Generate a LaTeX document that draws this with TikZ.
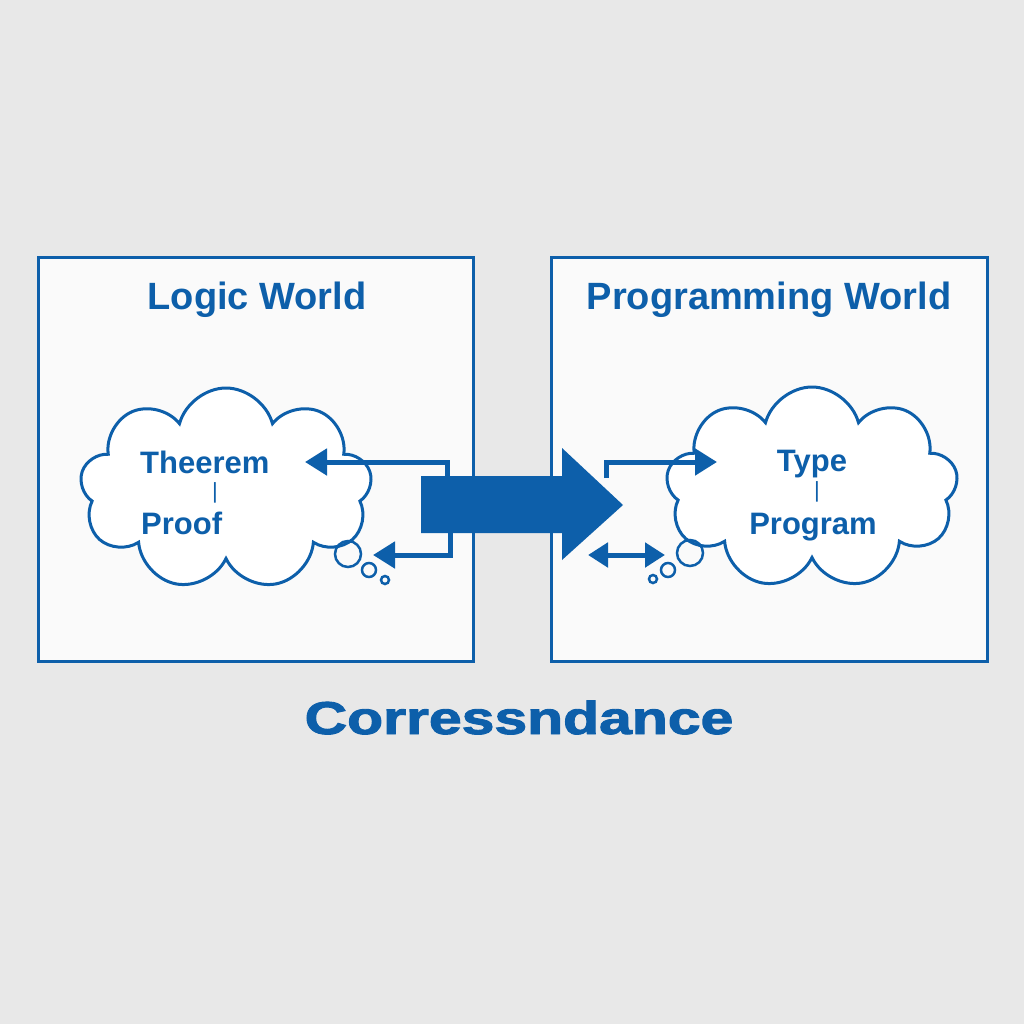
\documentclass[tikz,border=0pt]{standalone}
\usepackage{fontspec}
\usepackage{graphicx}
\setmainfont{Liberation Sans}
\usetikzlibrary{shapes.symbols,arrows.meta}
\definecolor{corrblue}{HTML}{0D5FAA}
\definecolor{bggray}{HTML}{E8E8E8}
\definecolor{boxfill}{HTML}{FAFAFA}
\tikzset{
	world/.style={draw=corrblue,fill=boxfill,line width=3pt},
	thought/.style={cloud,cloud puffs=9,aspect=1.45,draw=corrblue,fill=white,line width=3pt,minimum width=292pt,minimum height=202pt,inner sep=0pt},
	bubble/.style={draw=corrblue,line width=2.5pt},
	title/.style={text=corrblue,font=\fontsize{38}{44}\selectfont\bfseries,inner sep=0pt,anchor=base},
	term/.style={text=corrblue,font=\fontsize{31}{36}\selectfont\bfseries,inner sep=0pt},
	bar/.style={text=corrblue,font=\fontsize{22}{26}\selectfont,inner sep=0pt},
	link/.style={draw=corrblue,line width=5pt,miter limit=10,-{Triangle[length=22pt,width=26pt]}},
	twoway/.style={draw=corrblue,line width=5pt,{Triangle[length=20pt,width=24pt]}-{Triangle[length=20pt,width=24pt]}}
}
\begin{document}
\begin{tikzpicture}[x=1pt,y=-1pt]
		\fill[bggray] (0,0) rectangle (1024,1024);
		\useasboundingbox (0,0) rectangle (1024,1024);
		\draw[world] (38,257) rectangle (473,661);
		\draw[world] (551,257) rectangle (987,661);
		\node[title] (logic) at (257,309) {Logic World};
		\node[title] (prog) at (769,309) {Programming World};
		\node[thought] (lcloud) at (226,489) {};
		\node[thought] (rcloud) at (812,488) {};
		\draw[bubble] (348,554) circle[radius=13pt];
		\draw[bubble] (369,570) circle[radius=7pt];
		\draw[bubble] (385,580) circle[radius=4pt];
		\draw[bubble] (690,553) circle[radius=13pt];
		\draw[bubble] (668,570) circle[radius=7pt];
		\draw[bubble] (653,579) circle[radius=4pt];
		\node[term,anchor=base west] (theorem) at (140,473) {Theerem};
		\node[bar] (lbar) at (215,493) {|};
		\node[term,anchor=base west] (proof) at (141,534) {Proof};
		\node[term,anchor=base] (type) at (812,471) {Type};
		\node[bar] (rbar) at (817,492) {|};
		\node[term,anchor=base] (program) at (813,534) {Program};
		\coordinate (ltop) at (447,478);
		\coordinate (lbot) at (450,532);
		\coordinate (rtop) at (606,478);
		\coordinate (lin) at (305,462);
		\coordinate (lout) at (373,555);
		\coordinate (rin) at (717,462);
		\coordinate (dleft) at (588,555);
		\coordinate (dright) at (665,555);
		\draw[link] (ltop) |- (lin);
		\draw[link] (lbot) |- (lout);
		\draw[link] (rtop) |- (rin);
		\draw[twoway] (dleft) -- (dright);
		\fill[corrblue] (421,476) -- (562,476) -- (562,448) -- (623,505) -- (562,560) -- (562,533) -- (421,533) -- cycle;
		\node[text=corrblue,font=\fontsize{46}{52}\selectfont\bfseries\addfontfeatures{FakeBold=2},inner sep=0pt,anchor=base] (corr) at (519,734) {\scalebox{1.28}[1]{Corressndance}};
\end{tikzpicture}
\end{document}
